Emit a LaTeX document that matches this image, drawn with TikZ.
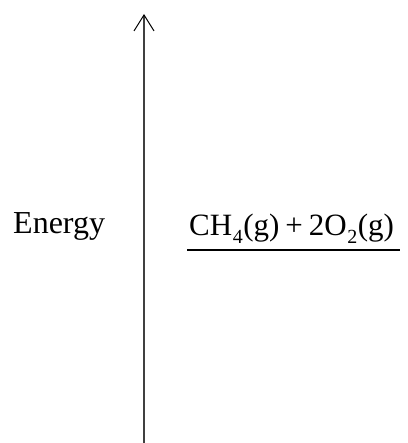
\documentclass[tikz,border=0pt]{standalone}
\usepackage{fontspec}
\setmainfont{Liberation Serif}
\usetikzlibrary{arrows.meta}
\newcommand{\chemsub}[1]{\hspace{0.5pt}\raisebox{-8pt}{\fontsize{20}{20}\selectfont #1}\hspace{0.5pt}}
\tikzset{
  axisline/.style={line width=1.8pt, draw={rgb,255:red,64;green,64;blue,64},
    -{Straight Barb[length=16pt,width=20pt,line width=1pt,color=black]}},
  lbl/.style={inner sep=0pt, anchor=base west, font=\fontsize{32}{32}\selectfont},
  levelline/.style={line width=1.2pt, draw=black}
}
\begin{document}
\begin{tikzpicture}[x=1pt,y=1pt]
\useasboundingbox (0,0) rectangle (407,-443);
\coordinate (axbot) at (144,-443);
\coordinate (axtop) at (144,-14);
\draw[axisline] (axbot) -- (axtop);
\node[lbl] (energy) at (13,-233) {Energy};
\node[lbl, font=\fontsize{31}{31}\selectfont] (react) at (189,-235)
  {CH\chemsub{4}(g)\hspace{6pt}+\hspace{6pt}2O\chemsub{2}(g)};
\coordinate (lvlL) at (187,-250);
\coordinate (lvlR) at (400,-250);
\draw[levelline] (lvlL) -- (lvlR);
\end{tikzpicture}
\end{document}
